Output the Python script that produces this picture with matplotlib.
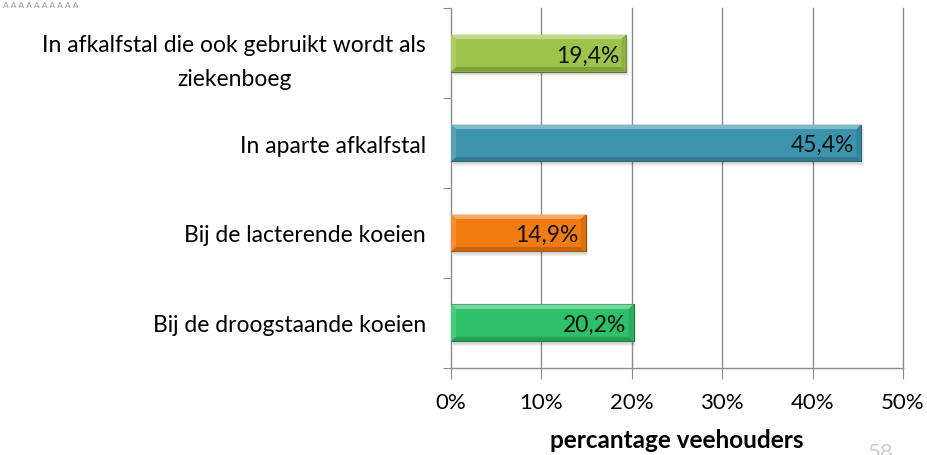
import matplotlib.pyplot as plt
import matplotlib.colors as mcolors
from matplotlib.patches import Rectangle, Polygon
import numpy as np

plt.rcParams['font.family'] = ['Lato', 'DejaVu Sans']

categories = ['Bij de droogstaande koeien', 'Bij de lacterende koeien',
              'In aparte afkalfstal', 'In afkalfstal die ook gebruikt wordt als\nziekenboeg']
values = [20.2, 14.9, 45.4, 19.4]
labels = ['20,2%', '14,9%', '45,4%', '19,4%']
colors = ['#2dc068', '#f27b12', '#3b93ad', '#9dc34b']
xticks = [0, 10, 20, 30, 40, 50]
xticklabels = ['0%', '10%', '20%', '30%', '40%', '50%']

fig = plt.figure(figsize=(9.28, 4.56), dpi=100)
ax = fig.add_axes([0.486, 0.191, 0.487, 0.789])

bh = 0.41
ypos = np.arange(len(values))

def shade(c, f):
    r, g, b = mcolors.to_rgb(c)
    if f > 0:
        return (r + (1 - r) * f, g + (1 - g) * f, b + (1 - b) * f)
    return (r * (1 + f), g * (1 + f), b * (1 + f))

# bevelled bars: soft shadow, body, light top edge, darker bottom edge
for y, v, c in zip(ypos, values, colors):
    for k, a in enumerate([0.05, 0.05, 0.05]):
        d = 0.1 + 0.08 * k
        ax.add_patch(Rectangle((d, y - bh / 2 - 0.03 - 0.01 * k), v, bh, color='#000000',
                               alpha=a, lw=0, zorder=2))
    ax.barh(y, v, height=bh, color=c, edgecolor=shade(c, -0.4), linewidth=0.8, zorder=3)
    b = 0.05
    bx = 0.55
    top = y + bh / 2
    bot = y - bh / 2
    ax.add_patch(Polygon([(0, top), (v, top), (v - bx, top - b), (bx, top - b)],
                         closed=True, color=shade(c, 0.35), lw=0, zorder=4))
    ax.add_patch(Polygon([(0, bot), (v, bot), (v - bx, bot + b), (bx, bot + b)],
                         closed=True, color=shade(c, -0.18), lw=0, zorder=4))
    ax.add_patch(Polygon([(v, top), (v, bot), (v - bx, bot + b), (v - bx, top - b)],
                         closed=True, color=shade(c, -0.1), lw=0, zorder=4))
    ax.add_patch(Polygon([(0, top), (0, bot), (bx, bot + b), (bx, top - b)],
                         closed=True, color=shade(c, 0.15), lw=0, zorder=4))

for y, v, t in zip(ypos, values, labels):
    ax.text(v - 0.8, y - 0.02, t, ha='right', va='center', fontsize=16.5, color='#111111', zorder=5)

ax.set_xlim(0, 50)
ax.set_ylim(-0.5, 3.5)
ax.set_xticks(xticks)
ax.set_xticklabels(xticklabels, fontsize=16)
ax.set_yticks(np.arange(-0.5, 3.6, 1.0))
ax.set_yticklabels([])
ax.set_yticks(ypos, minor=True)
ax.set_yticklabels(categories, minor=True, fontsize=16.5, multialignment='center',
                   linespacing=1.75)
ax.tick_params(axis='y', which='minor', length=0, pad=18)
ax.tick_params(axis='y', which='major', length=6, color='#8c8c8c', direction='out')
ax.tick_params(axis='x', length=8, color='#8c8c8c', pad=9)

for x in xticks[1:]:
    ax.axvline(x, color='#8c8c8c', linewidth=1, zorder=0, clip_on=False)
for s in ['top', 'right']:
    ax.spines[s].set_visible(False)
for s in ['left', 'bottom']:
    ax.spines[s].set_color('#8c8c8c')
    ax.spines[s].set_linewidth(1)

ax.set_xlabel('percantage veehouders', fontsize=17.5, fontweight='bold', labelpad=12)

fig.text(0.003, 0.995, 'A A A A A A A A A A', fontsize=6, color='#999999', va='top')
fig.text(0.935, -0.015, '58', fontsize=16, color='#cccccc', va='bottom')

fig.savefig('out.png', dpi=100)
